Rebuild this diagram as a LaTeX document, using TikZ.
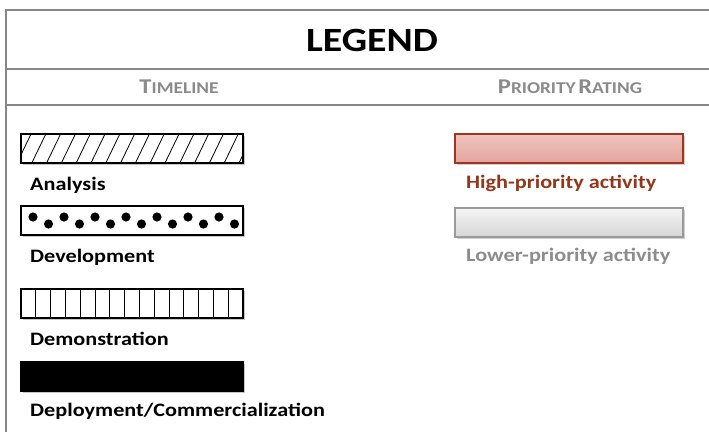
\documentclass[tikz,border=0pt]{standalone}
\usepackage{fontspec}
\setmainfont{Carlito}
\usetikzlibrary{calc}
\definecolor{frame}{HTML}{878787}
\definecolor{hdr}{HTML}{8A8A8A}
\definecolor{hired}{HTML}{953519}
\definecolor{hiborder}{HTML}{A0341F}
\definecolor{hitop}{HTML}{EFC3BE}
\definecolor{hibot}{HTML}{E2A59E}
\definecolor{lotop}{HTML}{F4F4F4}
\definecolor{lobot}{HTML}{D6D6D6}
\definecolor{loborder}{HTML}{9A9A9A}
\definecolor{lotext}{HTML}{8C8C8C}
\tikzset{
  frameline/.style={draw=frame, line width=2pt},
  legbox/.style={draw=black, line width=1.3pt, minimum width=222pt, minimum height=29pt, anchor=north west, inner sep=0pt, outer sep=0pt},
  prbox/.style={line width=1.3pt, minimum width=228pt, minimum height=29pt, anchor=north west, inner sep=0pt, outer sep=0pt},
  lbl/.style={anchor=west, inner sep=0pt, font=\fontsize{19}{19}\selectfont\bfseries},
  hdrtxt/.style={text=hdr, font=\bfseries, inner sep=0pt},
}
\newcommand{\sctxt}[2]{{\fontsize{21}{21}\selectfont #1}{\fontsize{16.5}{16.5}\selectfont #2}}
\newcommand{\wide}[1]{\scalebox{1.17}[1]{#1}}
\begin{document}
\begin{tikzpicture}[x=1pt,y=-1pt]
\useasboundingbox (0,0) rectangle (709,432);
% frame
\coordinate (tl) at (6,10);
\coordinate (tr) at (709,10);
\coordinate (bl) at (6,432);
\coordinate (s1l) at (6,69);
\coordinate (s1r) at (709,69);
\coordinate (s2l) at (6,105);
\coordinate (s2r) at (709,105);
\draw[frameline] (tr) -- (tl) -- (bl);
\draw[frameline] (s1l) -- (s1r);
\draw[frameline] (s2l) -- (s2r);
% headers
\node[inner sep=0pt, font=\fontsize{34}{34}\selectfont\bfseries] (title) at (372,40) {\wide{LEGEND}};
\node[hdrtxt] (timeline) at (179,87) {\wide{\sctxt{T}{IMELINE}}};
\node[hdrtxt] (priority) at (570,87) {\wide{\sctxt{P}{RIORITY} \sctxt{R}{ATING}}};
% shadows
\foreach \yy in {134,206,289,362} {
  \fill[black!22] (22.5,\yy+1.5) rectangle (244.5,\yy+30.5);
}
% Analysis
\node[legbox, fill=white] (ana) at (21,134) {};
\begin{scope}
\clip (ana.south west) rectangle (ana.north east);
\foreach \i in {0,...,16} {
  \draw[line width=0.8pt] ($(ana.south west)+(\i*14.8-4,0)$) -- ++(14,-29);
}
\end{scope}
\node[legbox] at (21,134) {};
\node[lbl] (analbl) at (30,185) {\wide{Analysis}};
% Development
\node[legbox, fill=white] (dev) at (21,206) {};
\foreach \i in {0,...,13} {
  \pgfmathsetmacro{\dy}{mod(\i,2)==0 ? 11 : 18}
  \fill ($(dev.north west)+(12+\i*15.5,\dy)$) circle (4.6pt);
}
\node[lbl] (devlbl) at (30,257) {\wide{Development}};
% Demonstration
\node[legbox, fill=white] (dem) at (21,289) {};
\foreach \i in {1,...,14} {
  \draw[line width=0.8pt] ($(dem.north west)+(\i*14.8,0)$) -- ++(0,28);
}
\node[lbl] (demlbl) at (30,339) {\wide{Demonstration}};
% Deployment
\node[legbox, fill=black] (dep) at (21,362) {};
\node[lbl] (deplbl) at (30,411) {\wide{Deployment/Commercialization}};
% Priority
\fill[black!18] (456.5,135.5) rectangle (685,165);
\fill[black!18] (456.5,209.5) rectangle (685,239);
\node[prbox, draw=hiborder, top color=hitop, bottom color=hibot] (hi) at (455,134) {};
\node[lbl, text=hired] (hilbl) at (466,183) {\wide{High-priority activity}};
\node[prbox, draw=loborder, top color=lotop, bottom color=lobot] (lo) at (455,208) {};
\node[lbl, text=lotext] (lolbl) at (466,256) {\wide{Lower-priority activity}};
\end{tikzpicture}
\end{document}
